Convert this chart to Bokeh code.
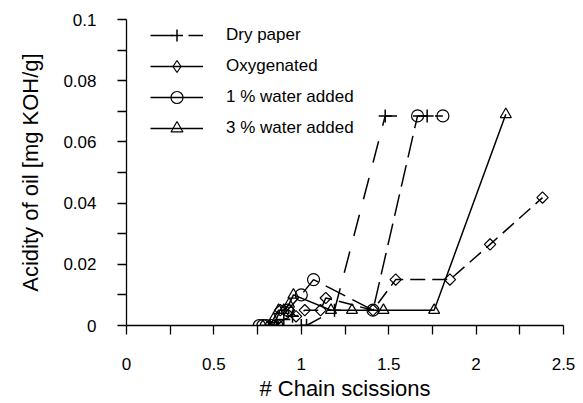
import math
from bokeh.plotting import figure
from bokeh.models import (Range1d, FixedTicker, NumeralTickFormatter, Legend, LegendItem,
                          ColumnDataSource)
from bokeh.embed import file_html
from bokeh.resources import INLINE

# ---- data ----
dry_x = [0.82, 0.86, 0.90, 0.95, 1.00, 1.03, 1.19, 1.48, 1.72]
dry_y = [0.0, 0.0, 0.002, 0.003, 0.0, 0.0, 0.005, 0.0685, 0.0685]

oxy_x = [0.84, 0.88, 0.93, 0.97, 1.02, 1.11, 1.14, 1.41, 1.54, 1.85, 2.08, 2.38]
oxy_y = [0.0, 0.005, 0.005, 0.003, 0.005, 0.005, 0.009, 0.005, 0.015, 0.015, 0.0265, 0.0418]

w1_x = [0.76, 0.78, 0.80, 0.83, 0.86, 0.92, 1.00, 1.07, 1.41, 1.665, 1.81]
w1_y = [0.0, 0.0, 0.0, 0.0, 0.0, 0.005, 0.010, 0.015, 0.005, 0.0685, 0.0685]

w3_x = [0.84, 0.87, 0.90, 0.93, 0.955, 1.17, 1.29, 1.47, 1.76, 2.17]
w3_y = [0.002, 0.005, 0.005, 0.007, 0.010, 0.005, 0.005, 0.005, 0.005, 0.069]

series_names = ["Dry paper", "Oxygenated", "1 % water added", "3 % water added"]

x_ticks = [0, 0.5, 1, 1.5, 2, 2.5]
x_tick_labels = ["0", "0.5", "1", "1.5", "2", "2.5"]
x_minor = [0.25, 0.75, 1.25, 1.75, 2.25]
y_ticks = [0, 0.02, 0.04, 0.06, 0.08, 0.1]
y_tick_labels = ["0", "0.02", "0.04", "0.06", "0.08", "0.1"]
y_minor = [0.01, 0.03, 0.05, 0.07, 0.09]

FONT = "Liberation Sans"

p = figure(frame_width=437, frame_height=306, min_border_left=126, min_border_right=20,
           min_border_top=19, min_border_bottom=78,
           x_range=Range1d(0, 2.5), y_range=Range1d(0, 0.1),
           output_backend="svg", toolbar_location=None)
p.outline_line_color = None
p.background_fill_color = "white"
p.border_fill_color = "white"
p.xgrid.visible = False
p.ygrid.visible = False

LW = 1.5

r_dry_line = p.line(dry_x, dry_y, line_color="black", line_width=LW, line_dash="22 16")
r_oxy_line = p.line(oxy_x, oxy_y, line_color="black", line_width=LW, line_dash="15 7")
r_w1_line = p.line(w1_x, w1_y, line_color="black", line_width=LW, line_dash="22 8")
r_w3_line = p.line(w3_x, w3_y, line_color="black", line_width=LW)

r_dry_m = p.scatter(dry_x, dry_y, marker="cross", size=13, line_color="black", line_width=LW)
r_oxy_m = p.scatter(oxy_x, oxy_y, marker="square", size=8, angle=math.pi / 4,
                    line_color="black", fill_alpha=0, line_width=1.2)
r_w1_m = p.scatter(w1_x, w1_y, marker="circle", size=12, line_color="black",
                   fill_alpha=0, line_width=1.2)
r_w3_m = p.scatter(w3_x, w3_y, marker="triangle", size=11, line_color="black",
                   fill_alpha=0, line_width=1.2)

# legend-only glyphs (solid lines and an upright diamond, as in the reference legend)
nan = float("nan")
dummy = ColumnDataSource(data=dict(x=[nan], y=[nan]))
leg_solid = p.line("x", "y", source=dummy, line_color="black", line_width=LW)
leg_diamond = p.scatter("x", "y", source=dummy, marker="diamond", size=14,
                        line_color="black", fill_alpha=0, line_width=1.2)

legend = Legend(items=[
    LegendItem(label=series_names[0], renderers=[r_dry_line, r_dry_m]),
    LegendItem(label=series_names[1], renderers=[leg_solid, leg_diamond]),
    LegendItem(label=series_names[2], renderers=[leg_solid, r_w1_m]),
    LegendItem(label=series_names[3], renderers=[leg_solid, r_w3_m]),
], location=(24, 182))
legend.border_line_color = None
legend.background_fill_alpha = 0
legend.padding = 0
legend.margin = 0
legend.spacing = 1
legend.glyph_width = 53
legend.glyph_height = 30
legend.label_standoff = 23
legend.label_text_font = FONT
legend.label_text_font_size = "17px"
legend.label_text_color = "black"
p.add_layout(legend, "center")

for ax in (p.xaxis[0], p.yaxis[0]):
    ax.axis_line_color = "black"
    ax.axis_line_width = 1.3
    ax.major_tick_line_color = "black"
    ax.minor_tick_line_color = "black"
    ax.major_tick_line_width = 1.3
    ax.minor_tick_line_width = 1.3
    ax.major_tick_in = 0
    ax.minor_tick_in = 0
    ax.major_tick_out = 9
    ax.minor_tick_out = 9
    ax.major_label_text_font = FONT
    ax.major_label_text_font_size = "17px"
    ax.major_label_text_color = "black"
    ax.axis_label_text_font = FONT
    ax.axis_label_text_font_size = "22px"
    ax.axis_label_text_font_style = "normal"
    ax.axis_label_text_color = "black"

p.xaxis[0].ticker = FixedTicker(ticks=x_ticks, minor_ticks=x_minor)
p.xaxis[0].formatter = NumeralTickFormatter(format="0.[0]")
p.xaxis[0].major_label_overrides = {t: s for t, s in zip(x_ticks, x_tick_labels)}
p.xaxis[0].major_label_standoff = 23
p.xaxis[0].axis_label = "# Chain scissions"
p.xaxis[0].axis_label_standoff = 3

p.yaxis[0].ticker = FixedTicker(ticks=y_ticks, minor_ticks=y_minor)
p.yaxis[0].formatter = NumeralTickFormatter(format="0.[00]")
p.yaxis[0].major_label_overrides = {t: s for t, s in zip(y_ticks, y_tick_labels)}
p.yaxis[0].major_label_standoff = 21
p.yaxis[0].axis_label = "Acidity of oil [mg KOH/g]"
p.yaxis[0].axis_label_standoff = 17

open("out.html", "w").write(file_html(p, INLINE))
